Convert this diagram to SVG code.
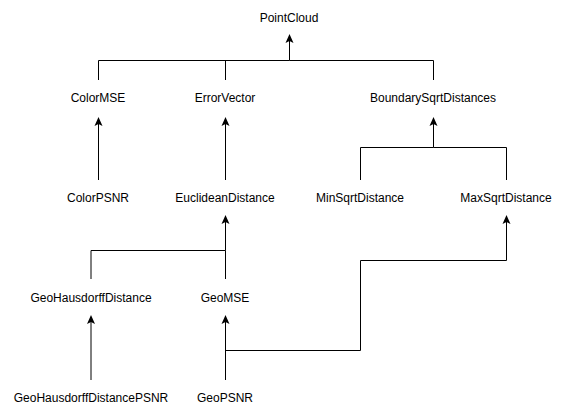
<svg xmlns="http://www.w3.org/2000/svg" width="576" height="415" viewBox="0 0 576 415">
<style>
text{font-family:"Liberation Sans",Arial,sans-serif;font-size:12px;fill:#000;text-anchor:middle}
.e{fill:none;stroke:#000;stroke-width:1}
</style>
<defs>
<marker id="a" markerWidth="12" markerHeight="10" refX="2" refY="5" orient="auto" markerUnits="userSpaceOnUse" viewBox="0 0 12 10">
<path d="M0,1 L9,5 L0,9 L2,5 Z" fill="#000"/>
</marker>
</defs>
<rect width="576" height="415" fill="#fff"/>
<g id="connectors">
<path class="e" d="M98.5,80 V60.5 H289.5 V41" marker-end="url(#a)"/>
<path class="e" d="M225.5,80 V60.5"/>
<path class="e" d="M433.5,80 V60.5 H289.5"/>
<path class="e" d="M98.5,180 V124" marker-end="url(#a)"/>
<path class="e" d="M225.5,180 V124" marker-end="url(#a)"/>
<path class="e" d="M360.5,180 V147.5 H433.5 V124" marker-end="url(#a)"/>
<path class="e" d="M506.5,180 V147.5 H433.5"/>
<path class="e" d="M91,279 V250.5 H225.5 V222" marker-end="url(#a)"/>
<path class="e" d="M225.5,279 V250.5"/>
<path class="e" d="M91,380 V322" marker-end="url(#a)"/>
<path class="e" d="M225.5,380 V322" marker-end="url(#a)"/>
<path class="e" d="M225.5,350.5 H360.5 V260.5 H506.5 V222" marker-end="url(#a)"/>
</g>
<g id="PointCloud"><text x="289" y="22">PointCloud</text></g>
<g id="ColorMSE"><text x="98" y="102">ColorMSE</text></g>
<g id="ErrorVector"><text x="225" y="102">ErrorVector</text></g>
<g id="BoundarySqrtDistances"><text x="433" y="102">BoundarySqrtDistances</text></g>
<g id="ColorPSNR"><text x="98" y="202">ColorPSNR</text></g>
<g id="EuclideanDistance"><text x="225" y="202">EuclideanDistance</text></g>
<g id="MinSqrtDistance"><text x="360" y="202">MinSqrtDistance</text></g>
<g id="MaxSqrtDistance"><text x="506" y="202">MaxSqrtDistance</text></g>
<g id="GeoHausdorffDistance"><text x="91" y="302">GeoHausdorffDistance</text></g>
<g id="GeoMSE"><text x="225" y="302">GeoMSE</text></g>
<g id="GeoHausdorffDistancePSNR"><text x="91" y="402">GeoHausdorffDistancePSNR</text></g>
<g id="GeoPSNR"><text x="225" y="402">GeoPSNR</text></g>
</svg>
